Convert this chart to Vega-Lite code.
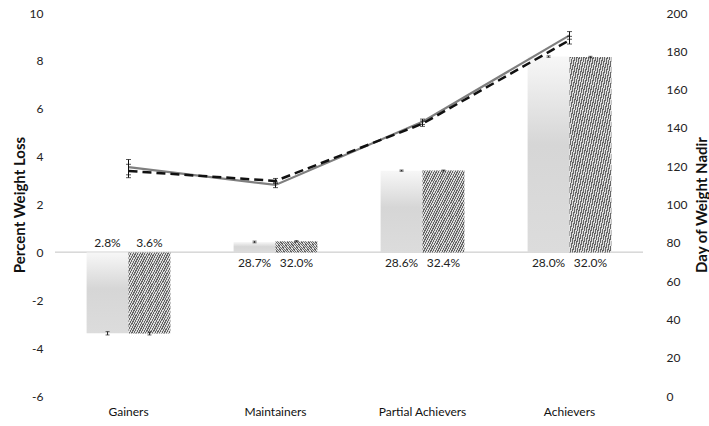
{
  "$schema": "https://vega.github.io/schema/vega-lite/v6.json",
  "width": 588,
  "height": 383,
  "autosize": {"type": "none"},
  "padding": {"left": 55, "top": 13, "right": 66, "bottom": 30},
  "background": "white",
  "config": {
    "view": {"stroke": null},
    "font": "Lato",
    "axis": {"domain": false, "ticks": false, "grid": false, "labelOverlap": false, "labelFont": "Lato", "titleFont": "Lato", "labelFontSize": 12, "titleFontSize": 15, "titleFontWeight": "bold", "labelColor": "#222222", "titleColor": "#111111"}
  },
  "datasets": {
    "bars": [
      {"cat": "Gainers", "s": "A", "v": -3.38, "lo": -3.45, "hi": -3.31, "label": "2.8%"},
      {"cat": "Gainers", "s": "B", "v": -3.39, "lo": -3.45, "hi": -3.33, "label": "3.6%"},
      {"cat": "Maintainers", "s": "A", "v": 0.43, "lo": 0.40, "hi": 0.47, "label": "28.7%"},
      {"cat": "Maintainers", "s": "B", "v": 0.46, "lo": 0.44, "hi": 0.49, "label": "32.0%"},
      {"cat": "Partial Achievers", "s": "A", "v": 3.41, "lo": 3.39, "hi": 3.44, "label": "28.6%"},
      {"cat": "Partial Achievers", "s": "B", "v": 3.42, "lo": 3.40, "hi": 3.44, "label": "32.4%"},
      {"cat": "Achievers", "s": "A", "v": 8.18, "lo": 8.15, "hi": 8.21, "label": "28.0%"},
      {"cat": "Achievers", "s": "B", "v": 8.16, "lo": 8.13, "hi": 8.19, "label": "32.0%"}
    ],
    "lines": [
      {"cat": "Gainers", "s": "A", "d": 119.5, "lo": 115.5, "hi": 123.5},
      {"cat": "Gainers", "s": "B", "d": 117.5, "lo": 114, "hi": 121},
      {"cat": "Maintainers", "s": "A", "d": 110.2, "lo": 108.8, "hi": 111.6},
      {"cat": "Maintainers", "s": "B", "d": 112.3, "lo": 111, "hi": 113.6},
      {"cat": "Partial Achievers", "s": "A", "d": 143.2, "lo": 141.8, "hi": 144.6},
      {"cat": "Partial Achievers", "s": "B", "d": 142.2, "lo": 140.8, "hi": 143.6},
      {"cat": "Achievers", "s": "A", "d": 188.3, "lo": 186.3, "hi": 190.3},
      {"cat": "Achievers", "s": "B", "d": 185.8, "lo": 183.8, "hi": 187.8}
    ]
  },
  "encoding": {
    "x": {"field": "cat", "type": "nominal", "sort": ["Gainers", "Maintainers", "Partial Achievers", "Achievers"], "scale": {"paddingInner": 0.43, "paddingOuter": 0.215}, "axis": {"title": null, "labelAngle": 0, "labelPadding": 10, "labelFontSize": 12, "labelColor": "#111111"}}
  },
  "layer": [
    {
      "data": {"name": "bars"},
      "encoding": {
        "y": {"type": "quantitative", "scale": {"domain": [-6, 10], "nice": false, "zero": false}, "axis": {"title": "Percent Weight Loss", "values": [-6, -4, -2, 0, 2, 4, 6, 8, 10], "tickCount": 9, "labelExpr": "'' + datum.value", "labelOverlap": false, "labelPadding": 12, "titlePadding": 2}},
        "xOffset": {"field": "s", "type": "nominal", "scale": {"domain": ["A", "B"], "paddingInner": 0, "paddingOuter": 0}}
      },
      "layer": [
        {
          "mark": {"type": "rule", "color": "#d9d9d9", "strokeWidth": 1},
          "encoding": {"y": {"datum": 0, "type": "quantitative"}, "x": null, "xOffset": null}
        },
        {
          "transform": [{"filter": "datum.s === 'A'"}],
          "mark": {"type": "bar", "color": {"gradient": "linear", "x1": 0, "y1": 0, "x2": 0, "y2": 1, "stops": [{"offset": 0, "color": "#f7f7f7"}, {"offset": 0.45, "color": "#d6d6d6"}, {"offset": 1, "color": "#dcdcdc"}]}},
          "encoding": {"y": {"field": "v", "type": "quantitative"}}
        },
        {
          "transform": [{"filter": "datum.s === 'B'"}],
          "mark": {"type": "bar", "color": {"gradient": "linear", "x1": 0, "y1": 0, "x2": 1, "y2": 1, "stops": [
            {"offset": 0, "color": "#666666"}, {"offset": 0.0139, "color": "#666666"}, {"offset": 0.0139, "color": "#dddddd"}, {"offset": 0.0278, "color": "#dddddd"},
            {"offset": 0.0278, "color": "#666666"}, {"offset": 0.0417, "color": "#666666"}, {"offset": 0.0417, "color": "#dddddd"}, {"offset": 0.0556, "color": "#dddddd"},
            {"offset": 0.0556, "color": "#666666"}, {"offset": 0.0694, "color": "#666666"}, {"offset": 0.0694, "color": "#dddddd"}, {"offset": 0.0833, "color": "#dddddd"},
            {"offset": 0.0833, "color": "#666666"}, {"offset": 0.0972, "color": "#666666"}, {"offset": 0.0972, "color": "#dddddd"}, {"offset": 0.1111, "color": "#dddddd"},
            {"offset": 0.1111, "color": "#666666"}, {"offset": 0.125, "color": "#666666"}, {"offset": 0.125, "color": "#dddddd"}, {"offset": 0.1389, "color": "#dddddd"},
            {"offset": 0.1389, "color": "#666666"}, {"offset": 0.1528, "color": "#666666"}, {"offset": 0.1528, "color": "#dddddd"}, {"offset": 0.1667, "color": "#dddddd"},
            {"offset": 0.1667, "color": "#666666"}, {"offset": 0.1806, "color": "#666666"}, {"offset": 0.1806, "color": "#dddddd"}, {"offset": 0.1944, "color": "#dddddd"},
            {"offset": 0.1944, "color": "#666666"}, {"offset": 0.2083, "color": "#666666"}, {"offset": 0.2083, "color": "#dddddd"}, {"offset": 0.2222, "color": "#dddddd"},
            {"offset": 0.2222, "color": "#666666"}, {"offset": 0.2361, "color": "#666666"}, {"offset": 0.2361, "color": "#dddddd"}, {"offset": 0.25, "color": "#dddddd"},
            {"offset": 0.25, "color": "#666666"}, {"offset": 0.2639, "color": "#666666"}, {"offset": 0.2639, "color": "#dddddd"}, {"offset": 0.2778, "color": "#dddddd"},
            {"offset": 0.2778, "color": "#666666"}, {"offset": 0.2917, "color": "#666666"}, {"offset": 0.2917, "color": "#dddddd"}, {"offset": 0.3056, "color": "#dddddd"},
            {"offset": 0.3056, "color": "#666666"}, {"offset": 0.3194, "color": "#666666"}, {"offset": 0.3194, "color": "#dddddd"}, {"offset": 0.3333, "color": "#dddddd"},
            {"offset": 0.3333, "color": "#666666"}, {"offset": 0.3472, "color": "#666666"}, {"offset": 0.3472, "color": "#dddddd"}, {"offset": 0.3611, "color": "#dddddd"},
            {"offset": 0.3611, "color": "#666666"}, {"offset": 0.375, "color": "#666666"}, {"offset": 0.375, "color": "#dddddd"}, {"offset": 0.3889, "color": "#dddddd"},
            {"offset": 0.3889, "color": "#666666"}, {"offset": 0.4028, "color": "#666666"}, {"offset": 0.4028, "color": "#dddddd"}, {"offset": 0.4167, "color": "#dddddd"},
            {"offset": 0.4167, "color": "#666666"}, {"offset": 0.4306, "color": "#666666"}, {"offset": 0.4306, "color": "#dddddd"}, {"offset": 0.4444, "color": "#dddddd"},
            {"offset": 0.4444, "color": "#666666"}, {"offset": 0.4583, "color": "#666666"}, {"offset": 0.4583, "color": "#dddddd"}, {"offset": 0.4722, "color": "#dddddd"},
            {"offset": 0.4722, "color": "#666666"}, {"offset": 0.4861, "color": "#666666"}, {"offset": 0.4861, "color": "#dddddd"}, {"offset": 0.5, "color": "#dddddd"},
            {"offset": 0.5, "color": "#666666"}, {"offset": 0.5139, "color": "#666666"}, {"offset": 0.5139, "color": "#dddddd"}, {"offset": 0.5278, "color": "#dddddd"},
            {"offset": 0.5278, "color": "#666666"}, {"offset": 0.5417, "color": "#666666"}, {"offset": 0.5417, "color": "#dddddd"}, {"offset": 0.5556, "color": "#dddddd"},
            {"offset": 0.5556, "color": "#666666"}, {"offset": 0.5694, "color": "#666666"}, {"offset": 0.5694, "color": "#dddddd"}, {"offset": 0.5833, "color": "#dddddd"},
            {"offset": 0.5833, "color": "#666666"}, {"offset": 0.5972, "color": "#666666"}, {"offset": 0.5972, "color": "#dddddd"}, {"offset": 0.6111, "color": "#dddddd"},
            {"offset": 0.6111, "color": "#666666"}, {"offset": 0.625, "color": "#666666"}, {"offset": 0.625, "color": "#dddddd"}, {"offset": 0.6389, "color": "#dddddd"},
            {"offset": 0.6389, "color": "#666666"}, {"offset": 0.6528, "color": "#666666"}, {"offset": 0.6528, "color": "#dddddd"}, {"offset": 0.6667, "color": "#dddddd"},
            {"offset": 0.6667, "color": "#666666"}, {"offset": 0.6806, "color": "#666666"}, {"offset": 0.6806, "color": "#dddddd"}, {"offset": 0.6944, "color": "#dddddd"},
            {"offset": 0.6944, "color": "#666666"}, {"offset": 0.7083, "color": "#666666"}, {"offset": 0.7083, "color": "#dddddd"}, {"offset": 0.7222, "color": "#dddddd"},
            {"offset": 0.7222, "color": "#666666"}, {"offset": 0.7361, "color": "#666666"}, {"offset": 0.7361, "color": "#dddddd"}, {"offset": 0.75, "color": "#dddddd"},
            {"offset": 0.75, "color": "#666666"}, {"offset": 0.7639, "color": "#666666"}, {"offset": 0.7639, "color": "#dddddd"}, {"offset": 0.7778, "color": "#dddddd"},
            {"offset": 0.7778, "color": "#666666"}, {"offset": 0.7917, "color": "#666666"}, {"offset": 0.7917, "color": "#dddddd"}, {"offset": 0.8056, "color": "#dddddd"},
            {"offset": 0.8056, "color": "#666666"}, {"offset": 0.8194, "color": "#666666"}, {"offset": 0.8194, "color": "#dddddd"}, {"offset": 0.8333, "color": "#dddddd"},
            {"offset": 0.8333, "color": "#666666"}, {"offset": 0.8472, "color": "#666666"}, {"offset": 0.8472, "color": "#dddddd"}, {"offset": 0.8611, "color": "#dddddd"},
            {"offset": 0.8611, "color": "#666666"}, {"offset": 0.875, "color": "#666666"}, {"offset": 0.875, "color": "#dddddd"}, {"offset": 0.8889, "color": "#dddddd"},
            {"offset": 0.8889, "color": "#666666"}, {"offset": 0.9028, "color": "#666666"}, {"offset": 0.9028, "color": "#dddddd"}, {"offset": 0.9167, "color": "#dddddd"},
            {"offset": 0.9167, "color": "#666666"}, {"offset": 0.9306, "color": "#666666"}, {"offset": 0.9306, "color": "#dddddd"}, {"offset": 0.9444, "color": "#dddddd"},
            {"offset": 0.9444, "color": "#666666"}, {"offset": 0.9583, "color": "#666666"}, {"offset": 0.9583, "color": "#dddddd"}, {"offset": 0.9722, "color": "#dddddd"},
            {"offset": 0.9722, "color": "#666666"}, {"offset": 0.9861, "color": "#666666"}, {"offset": 0.9861, "color": "#dddddd"}, {"offset": 1, "color": "#dddddd"}
          ]}},
          "encoding": {"y": {"field": "v", "type": "quantitative"}}
        },
        {
          "mark": {"type": "rule", "color": "#222222", "strokeWidth": 1},
          "encoding": {"y": {"field": "lo", "type": "quantitative"}, "y2": {"field": "hi"}}
        },
        {
          "mark": {"type": "tick", "color": "#222222", "thickness": 1, "size": 4},
          "encoding": {"y": {"field": "lo", "type": "quantitative"}}
        },
        {
          "mark": {"type": "tick", "color": "#222222", "thickness": 1, "size": 4},
          "encoding": {"y": {"field": "hi", "type": "quantitative"}}
        },
        {
          "transform": [{"filter": "datum.v < 0"}],
          "mark": {"type": "text", "dy": -9, "fontSize": 12, "color": "#222222", "baseline": "middle"},
          "encoding": {"y": {"datum": 0, "type": "quantitative"}, "text": {"field": "label"}}
        },
        {
          "transform": [{"filter": "datum.v >= 0"}],
          "mark": {"type": "text", "dy": 11, "fontSize": 12, "color": "#222222", "baseline": "middle"},
          "encoding": {"y": {"datum": 0, "type": "quantitative"}, "text": {"field": "label"}}
        }
      ]
    },
    {
      "data": {"name": "lines"},
      "encoding": {
        "y": {"type": "quantitative", "scale": {"domain": [0, 200], "nice": false}, "axis": {"orient": "right", "title": "Day of Weight Nadir", "titleAngle": -90, "values": [0, 20, 40, 60, 80, 100, 120, 140, 160, 180, 200], "tickCount": 11, "labelOverlap": false, "labelPadding": 23, "titlePadding": 23}}
      },
      "layer": [
        {
          "transform": [{"filter": "datum.s === 'A'"}],
          "mark": {"type": "line", "color": "#7f7f7f", "strokeWidth": 2.2},
          "encoding": {"y": {"field": "d", "type": "quantitative"}}
        },
        {
          "transform": [{"filter": "datum.s === 'B'"}],
          "mark": {"type": "line", "color": "#111111", "strokeWidth": 2.5, "strokeDash": [9, 5]},
          "encoding": {"y": {"field": "d", "type": "quantitative"}}
        },
        {
          "mark": {"type": "rule", "color": "#111111", "strokeWidth": 1},
          "encoding": {"y": {"field": "lo", "type": "quantitative"}, "y2": {"field": "hi"}}
        },
        {
          "mark": {"type": "tick", "color": "#111111", "thickness": 1, "size": 5},
          "encoding": {"y": {"field": "lo", "type": "quantitative"}}
        },
        {
          "mark": {"type": "tick", "color": "#111111", "thickness": 1, "size": 5},
          "encoding": {"y": {"field": "hi", "type": "quantitative"}}
        }
      ]
    }
  ],
  "resolve": {"scale": {"y": "independent"}, "axis": {"y": "independent"}}
}
